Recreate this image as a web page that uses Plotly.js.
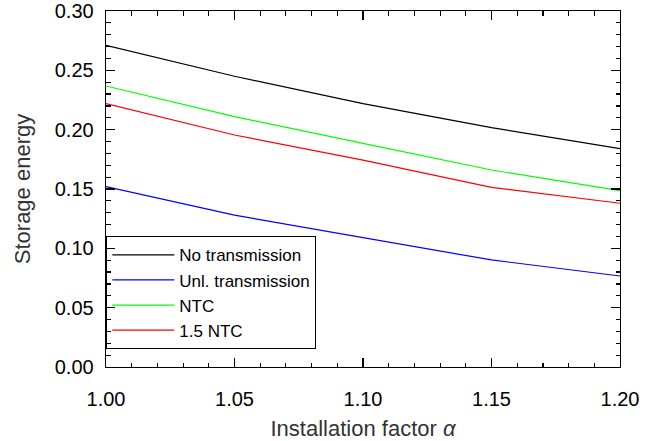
<!DOCTYPE html>
<html>
<head>
<meta charset="utf-8">
<script src="https://cdn.plot.ly/plotly-3.0.1.min.js"></script>
<style>html,body{margin:0;padding:0;background:#fff;}#chart{width:659px;height:441px;}</style>
</head>
<body>
<div id="chart"></div>
<script>
var alpha = [1.00, 1.05, 1.10, 1.15, 1.20];
var noTransmission = [0.271, 0.245, 0.222, 0.2017, 0.184];
var unlTransmission = [0.152, 0.128, 0.109, 0.0902, 0.0767];
var ntc = [0.2368, 0.211, 0.1885, 0.166, 0.1486];
var ntc15 = [0.2219, 0.1955, 0.1744, 0.1514, 0.138];
var seriesNames = ['No transmission', 'Unl. transmission', 'NTC', '1.5 NTC'];
var seriesColors = ['#000000', '#0000ff', '#00ff00', '#ff0000'];
var seriesValues = [noTransmission, unlTransmission, ntc, ntc15];

var traces = seriesValues.map(function (vals, i) {
  return {
    x: alpha, y: vals, type: 'scatter', mode: 'lines',
    name: seriesNames[i],
    line: {color: seriesColors[i], width: 1.2}
  };
});

var axisCommon = {
  showgrid: false, zeroline: false, showline: true, linecolor: '#000', linewidth: 1.3,
  mirror: 'allticks', ticks: 'inside', ticklen: 9, tickwidth: 1.3, tickcolor: '#000',
  tickfont: {family: 'Liberation Sans, Arial, sans-serif', size: 20, color: '#000'}
};

var layout = {
  width: 659, height: 441,
  margin: {l: 106, r: 39, t: 11, b: 74},
  paper_bgcolor: '#fff', plot_bgcolor: '#fff',
  showlegend: true,
  legend: {
    x: 0, y: 0.368, xanchor: 'left', yanchor: 'top',
    bgcolor: 'rgba(0,0,0,0)', bordercolor: '#000', borderwidth: 1.3,
    font: {family: 'Liberation Sans, Arial, sans-serif', size: 17, color: '#000'},
    itemwidth: 62, tracegroupgap: 0
  },
  xaxis: Object.assign({}, axisCommon, {
    range: [1.0, 1.2], tickvals: [1.00, 1.05, 1.10, 1.15, 1.20],
    ticktext: ['1.00', '1.05', '1.10', '1.15', '1.20'],
    minor: {dtick: 0.01, ticks: 'inside', ticklen: 4.5, tickwidth: 1.2, tickcolor: '#000'},
    ticklabelstandoff: 14,
    title: {text: 'Installation factor <i>α</i>', standoff: 13,
      font: {family: 'Liberation Sans, Arial, sans-serif', size: 22, color: '#333'}}
  }),
  yaxis: Object.assign({}, axisCommon, {
    range: [0, 0.30], tickvals: [0, 0.05, 0.10, 0.15, 0.20, 0.25, 0.30],
    ticktext: ['0.00', '0.05', '0.10', '0.15', '0.20', '0.25', '0.30'],
    minor: {dtick: 0.01, ticks: 'inside', ticklen: 4.5, tickwidth: 1.2, tickcolor: '#000'},
    ticklabelstandoff: 7,
    title: {text: 'Storage energy', standoff: 18,
      font: {family: 'Liberation Sans, Arial, sans-serif', size: 22, color: '#333'}}
  })
};

Plotly.newPlot('chart', traces, layout, {displayModeBar: false, staticPlot: true});
</script>
</body>
</html>
